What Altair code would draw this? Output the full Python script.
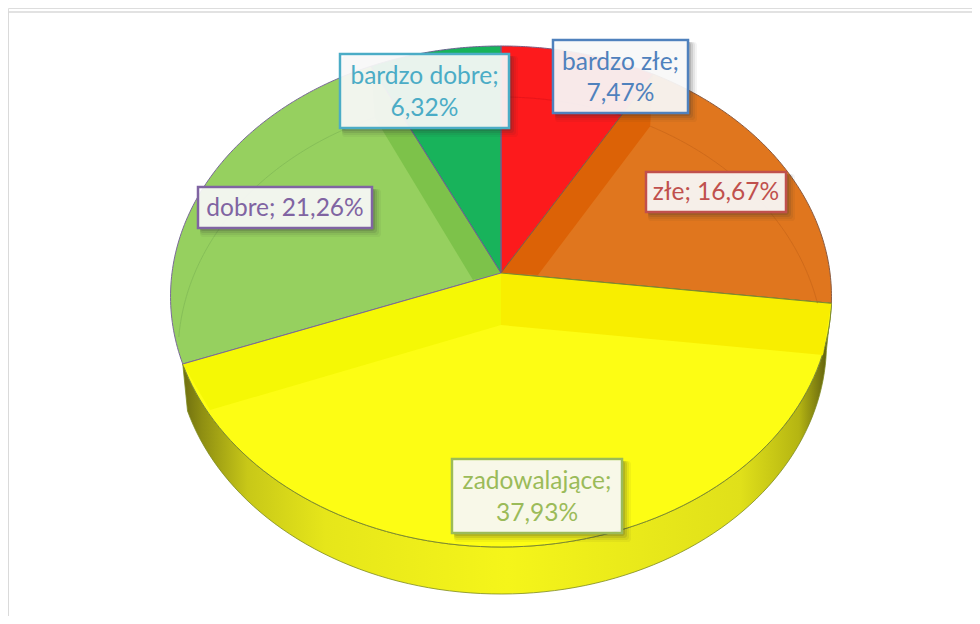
import math
import altair as alt
import pandas as pd

# ---- chart values ----
categories = ["bardzo złe", "złe", "zadowalające", "dobre", "bardzo dobre"]
shares = [7.47, 16.67, 37.93, 21.26, 6.32]
slice_fills = ["#fd1a1c", "#e0761e", "#fdfd14", "#96d05f", "#18b35b"]
slice_edges = ["#7c5a80", "#8a5a40", "#7d8a30", "#7a6a98", "#6b5f90"]
label_colors = ["#4f81bd", "#c0504d", "#9bbb59", "#8064a2", "#4bacc6"]
label_texts = ["7,47%", "16,67%", "37,93%", "21,26%", "6,32%"]

# ---- label boxes in canvas units: left, right, top, bottom, two-line? ----
label_boxes = [
    (553, 688, 40, 113, True),
    (646, 786, 172, 212, False),
    (452, 622, 459, 533, True),
    (198, 372, 187, 228, False),
    (340, 509, 54, 128, True),
]

# ---- perspective of the tilted disc ----
CX, CY, A, B, P = 501, 273, 329, 248.3, 0.0938
DEPTH, SHRINK = 47, 0.985
W, H = 964, 608


def rim(deg, dy=0.0, sx=1.0):
    a = math.radians(deg)
    u, v = math.sin(a), -math.cos(a)
    w = 1 - P * v
    return (CX + sx * A * u / w, CY + B * v / w + dy)


def inner(deg):
    a = math.radians(deg)
    return (CX + 323 * math.sin(a), 355 - 258 * math.cos(a))


def sweep(a0, a1, fn=rim, n=90, **kw):
    return [fn(a0 + (a1 - a0) * i / n, **kw) for i in range(n + 1)]


xs = alt.Scale(domain=[8, 8 + W], nice=False, zero=False)
ys = alt.Scale(domain=[8 + H, 8], nice=False, zero=False)


def frame(rows):
    return pd.DataFrame(
        [{"x": x, "y": y, "o": i} for i, (x, y) in enumerate(rows)]
    )


def enc(chart):
    return chart.encode(
        x=alt.X("x:Q", scale=xs, axis=None),
        y=alt.Y("y:Q", scale=ys, axis=None),
        order=alt.Order("o:Q"),
    )


def poly(rows, fill, stroke=None, sw=0.0, opacity=1.0):
    kw = {"fill": fill, "fillOpacity": opacity, "strokeWidth": sw}
    kw["stroke"] = stroke if stroke else "transparent"
    return enc(alt.Chart(frame(list(rows) + [rows[0]])).mark_line(**kw))


def path(rows, stroke, sw=1.0, opacity=1.0):
    return enc(
        alt.Chart(frame(rows)).mark_line(stroke=stroke, strokeWidth=sw, opacity=opacity)
    )


total = sum(shares)
edges = [0.0]
for s in shares:
    edges.append(edges[-1] + s / total * 360)

layers = []

# chart-area border
layers.append(path([(8, 616), (8, 12), (972, 12)], "#d9d9d9", 1.5))

# side wall
side_gradient = alt.LinearGradient(
    gradient="linear",
    x1=0, x2=1, y1=0, y2=0,
    stops=[
        alt.GradientStop(offset=0.0, color="#6e6e10"),
        alt.GradientStop(offset=0.03, color="#8f8f12"),
        alt.GradientStop(offset=0.1, color="#c8c818"),
        alt.GradientStop(offset=0.22, color="#e6e61a"),
        alt.GradientStop(offset=0.5, color="#f5f51a"),
        alt.GradientStop(offset=0.86, color="#e0e01a"),
        alt.GradientStop(offset=0.95, color="#b5b512"),
        alt.GradientStop(offset=1.0, color="#55550f"),
    ],
)
a_right, a_left = edges[2], edges[3]
side_rows = sweep(a_right, a_left) + sweep(a_left, a_right, dy=DEPTH, sx=SHRINK)
layers.append(poly(side_rows, side_gradient, "#7d8a20", 0.8))

# top-face slices
for i in range(len(shares)):
    rows = [(CX, CY)] + sweep(edges[i], edges[i + 1])
    layers.append(poly(rows, slice_fills[i], slice_edges[i], 1.0))

# inner walls seen through the translucent surface
a_red, a_green = edges[1], edges[4]
walls = [
    ([(CX, CY), (CX + 37, CY + 2), inner(27.5), rim(a_red)], "#dc6206"),
    ([(CX, CY), (CX - 28, CY + 7), inner(337), rim(a_green)], "#7dc24a"),
    ([(CX, CY), rim(a_right), (823, 355), (CX, CY + 52)], "#f8ee00"),
    ([(CX, CY), rim(a_left), (210, 410), (CX, CY + 52)], "#f5f805"),
]
for rows, fill in walls:
    layers.append(poly(rows, fill))

# faint far-edge arcs
layers.append(path(sweep(0, 21.7, fn=inner), "#e8141a", 1.0))
layers.append(path(sweep(27.5, 78.4, fn=inner), "#cf6a1a", 1.0))
layers.append(path(sweep(274, 337, fn=inner), "#86bf58", 1.0))

# slice edges on top of the walls
for i in range(len(shares)):
    layers.append(path([rim(edges[i]), (CX, CY)], slice_edges[i], 1.0))

# data labels
for i, (l, r, t, b, two) in enumerate(label_boxes):
    for off, op in [(9, 0.05), (7, 0.08), (5, 0.12), (3, 0.16)]:
        shadow = pd.DataFrame(
            [{"x": l + 2, "x2": r + off, "y": t + 2, "y2": b + off}]
        )
        layers.append(
            alt.Chart(shadow)
            .mark_rect(color="#303030", opacity=op, cornerRadius=3)
            .encode(
                x=alt.X("x:Q", scale=xs, axis=None), x2="x2:Q",
                y=alt.Y("y:Q", scale=ys, axis=None), y2="y2:Q",
            )
        )
    box = pd.DataFrame([{"x": l, "x2": r, "y": t, "y2": b}])
    layers.append(
        alt.Chart(box)
        .mark_rect(fill="#ffffff", fillOpacity=0.9, stroke=label_colors[i], strokeWidth=2.5)
        .encode(
            x=alt.X("x:Q", scale=xs, axis=None), x2="x2:Q",
            y=alt.Y("y:Q", scale=ys, axis=None), y2="y2:Q",
        )
    )
    mid = (l + r) / 2
    if two:
        h = (b - t)
        lines = [
            (f"{categories[i]};", t + h * 0.31),
            (label_texts[i], t + h * 0.74),
        ]
    else:
        lines = [(f"{categories[i]}; {label_texts[i]}", (t + b) / 2 + 1)]
    txt = pd.DataFrame([{"x": mid, "y": y, "t": s} for s, y in lines])
    layers.append(
        alt.Chart(txt)
        .mark_text(font="Lato", fontSize=24.5, color=label_colors[i], baseline="middle", align="center")
        .encode(
            x=alt.X("x:Q", scale=xs, axis=None),
            y=alt.Y("y:Q", scale=ys, axis=None),
            text="t:N",
        )
    )

chart = (
    alt.layer(*layers)
    .properties(width=W, height=H, padding=0, autosize=alt.AutoSizeParams(type="none"))
    .configure_view(stroke=None)
    .configure(background="#ffffff")
)
chart.save("out.html", embed_options={"renderer": "svg", "actions": False})
